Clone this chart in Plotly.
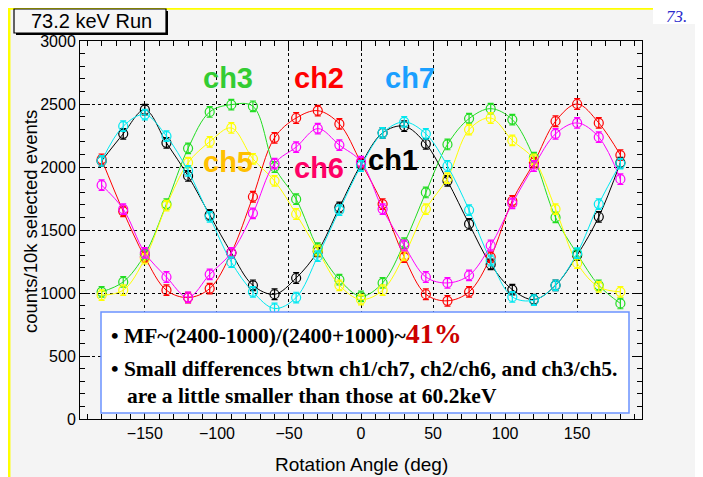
import plotly.graph_objects as go

angles = [-180, -165, -150, -135, -120, -105, -90, -75, -60, -45, -30, -15, 0,
          15, 30, 45, 60, 75, 90, 105, 120, 135, 150, 165, 180]

ch1 = [2048, 2263, 2455, 2192, 1929, 1620, 1319, 1061, 990, 1119, 1330, 1679, 2021,
       2271, 2324, 2184, 1890, 1548, 1227, 1027, 948, 1061, 1300, 1605, 2034]
ch2 = [2061, 1648, 1285, 1022, 964, 1035, 1319, 1764, 2232, 2389, 2447, 2342, 2034,
       1706, 1285, 990, 938, 1009, 1285, 1732, 2034, 2363, 2500, 2350, 2095]
ch3 = [1009, 1088, 1306, 1706, 2148, 2437, 2495, 2482, 2000, 1745, 1356, 1106, 974,
       1080, 1395, 1798, 2179, 2384, 2463, 2376, 2074, 1600, 1311, 1061, 917]
ch5 = [983, 1022, 1272, 1693, 2034, 2200, 2310, 2065, 1890, 1627, 1337, 1061, 948,
       1022, 1298, 1666, 1911, 2297, 2389, 2211, 2061, 1666, 1237, 1048, 1009]
ch6 = [1856, 1666, 1319, 1127, 966, 1148, 1319, 1632, 2027, 2158, 2305, 2174, 2042,
       1666, 1377, 1127, 1080, 1140, 1377, 1711, 2008, 2263, 2350, 2237, 1903]
ch7 = [2048, 2324, 2416, 2245, 1969, 1605, 1245, 1009, 877, 964, 1292, 1658, 2008,
       2271, 2358, 2263, 2008, 1658, 1258, 969, 943, 1061, 1316, 1706, 2027]

err = 42

series = [
    ("ch1", ch1, "#000000"),
    ("ch2", ch2, "#ff0000"),
    ("ch3", ch3, "#22dd22"),
    ("ch5", ch5, "#ffff00"),
    ("ch6", ch6, "#ff00ff"),
    ("ch7", ch7, "#00e8f0"),
]

labels = [
    ("ch3", -92, 2706, "#33cc33"),
    ("ch2", -29, 2706, "#ff0000"),
    ("ch7", 34, 2706, "#1a9fff"),
    ("ch5", -92, 2040, "#ffc000"),
    ("ch6", -29, 1992, "#ff0066"),
    ("ch1", 22, 2055, "#000000"),
]

# page offset (browser body margin) and page-pixel layout
OFF = 8
W, H = 703 - OFF, 477 - OFF
L, R, T, B = 80 - OFF, 642 - OFF, 41 - OFF, 419 - OFF


def fx(px):
    return (px - OFF - L) / (R - L)


def fy(py):
    return (B - (py - OFF)) / (B - T)


fig = go.Figure()
for name, vals, col in series:
    fig.add_trace(go.Scatter(
        x=angles, y=vals, name=name, mode="lines+markers",
        line=dict(color=col, width=1, shape="spline", smoothing=1.0),
        marker=dict(symbol="circle-open", size=9, color=col, line=dict(width=1.2, color=col)),
        error_y=dict(type="constant", value=err, color=col, thickness=1.2, width=3),
    ))

axis_common = dict(
    showline=True, linecolor="black", linewidth=1, mirror="ticks",
    ticks="inside", ticklen=10, tickcolor="black", tickwidth=1,
    showgrid=True, gridcolor="black", griddash="dot", gridwidth=1,
    zeroline=False,
    tickfont=dict(family="Liberation Sans, Arial", size=16, color="black"),
)

fig.update_xaxes(range=[-195, 195], tick0=0, dtick=50,
                 minor=dict(dtick=10, ticklen=5, ticks="inside", tickcolor="black", showgrid=False),
                 **axis_common)
fig.update_yaxes(range=[0, 3000], tick0=0, dtick=500,
                 minor=dict(dtick=100, ticklen=5, ticks="inside", tickcolor="black", showgrid=False),
                 **axis_common)

shapes = [
    # gray panel background with yellow frame lines
    dict(type="rect", xref="paper", yref="paper", x0=fx(9), x1=fx(703), y0=fy(8), y1=fy(477),
         fillcolor="#f4f4f4", line=dict(width=0), layer="below"),
    dict(type="rect", xref="paper", yref="paper", x0=fx(653), x1=fx(703), y0=fy(0), y1=fy(24),
         fillcolor="white", line=dict(width=0), layer="below"),
    dict(type="line", xref="paper", yref="paper", x0=fx(8), x1=fx(653), y0=fy(8.8), y1=fy(8.8),
         line=dict(color="#ffff00", width=2), layer="above"),
    dict(type="line", xref="paper", yref="paper", x0=fx(9.2), x1=fx(9.2), y0=fy(8), y1=fy(477),
         line=dict(color="#ffff00", width=2.5), layer="above"),
    # title box with shadow
    dict(type="rect", xref="paper", yref="paper", x0=fx(16), x1=fx(168), y0=fy(11), y1=fy(35),
         fillcolor="black", line=dict(width=0), layer="above"),
    dict(type="rect", xref="paper", yref="paper", x0=fx(14), x1=fx(166), y0=fy(9), y1=fy(33),
         fillcolor="#f6f6f6", line=dict(color="black", width=1.2), layer="above"),
    # text box
    dict(type="rect", xref="paper", yref="paper", x0=fx(101), x1=fx(629), y0=fy(312), y1=fy(413),
         fillcolor="white", line=dict(color="#6b93ff", width=1.5), layer="above"),
]

serif = "Liberation Serif, Times New Roman"
sans = "Liberation Sans, Arial"
annotations = [
    dict(text="73.2 keV Run", xref="paper", yref="paper", x=fx(91), y=fy(21),
         xanchor="center", yanchor="middle", showarrow=False,
         font=dict(family=sans, size=20, color="black")),
    dict(text="<i>73.</i>", xref="paper", yref="paper", x=fx(664), y=fy(16),
         xanchor="left", yanchor="middle", showarrow=False,
         font=dict(family=serif, size=17, color="#2b2bcc")),
    dict(text="counts/10k selected events", xref="paper", yref="paper", x=fx(30), y=fy(222),
         xanchor="center", yanchor="middle", textangle=-90, showarrow=False,
         font=dict(family=sans, size=18.5, color="black")),
    dict(text="Rotation Angle (deg)", xref="paper", yref="paper", x=fx(361), y=fy(464),
         xanchor="center", yanchor="middle", showarrow=False,
         font=dict(family=sans, size=19, color="black")),
    dict(text="<b>\u2022 MF~(2400-1000)/(2400+1000)~<span style='color:#cc0000;font-size:28px'>41%</span></b>",
         xref="paper", yref="paper", x=fx(109), y=fy(333),
         xanchor="left", yanchor="middle", showarrow=False,
         font=dict(family=serif, size=21.5, color="black")),
    dict(text="<b>\u2022 Small differences btwn ch1/ch7, ch2/ch6, and ch3/ch5.</b>",
         xref="paper", yref="paper", x=fx(109), y=fy(369),
         xanchor="left", yanchor="middle", showarrow=False,
         font=dict(family=serif, size=21.5, color="black")),
    dict(text="<b>are a little smaller than those at 60.2keV</b>",
         xref="paper", yref="paper", x=fx(125), y=fy(396),
         xanchor="left", yanchor="middle", showarrow=False,
         font=dict(family=serif, size=21.5, color="black")),
]
for txt, xv, yv, col in labels:
    annotations.append(dict(text="<b>%s</b>" % txt, x=xv, y=yv, xref="x", yref="y",
                            xanchor="center", yanchor="middle", showarrow=False,
                            font=dict(family=sans, size=29, color=col)))

fig.update_layout(
    width=W, height=H, autosize=False,
    margin=dict(l=L, r=W - R, t=T, b=H - B, pad=0),
    paper_bgcolor="white", plot_bgcolor="#f4f4f4",
    showlegend=False,
    shapes=shapes, annotations=annotations,
)

fig.write_html("out.html")
